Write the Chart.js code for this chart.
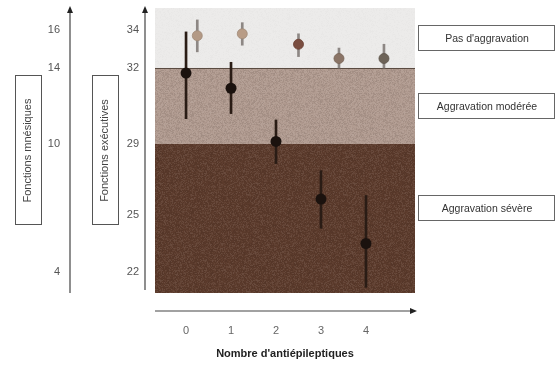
<!DOCTYPE html>
<html>
<head>
<meta charset="utf-8">
<script src="https://cdn.jsdelivr.net/npm/chart.js@4"></script>
<style>
  html, body { margin: 0; padding: 0; background: #fff; }
  canvas { display: block; }
</style>
</head>
<body>
<canvas id="chart" width="555" height="368"></canvas>
<script>
// data
const xTicks = [0, 1, 2, 3, 4];
const execTicks = [22, 25, 29, 32, 34];
const memTicks = [4, 10, 14, 16];

// executive functions (dark points)
const darkX = [0, 1, 2, 3, 4];
const darkY = [31.8, 31.2, 29.1, 25.9, 23.5];
const darkLo = [30.0, 30.2, 27.9, 24.3, 21.2];
const darkHi = [33.9, 32.3, 29.95, 27.5, 26.1];

// "pas d'aggravation" (light points)
const lightX = [0.25, 1.25, 2.5, 3.4, 4.4];
const lightY = [33.7, 33.8, 33.25, 32.5, 32.5];
const lightLo = [32.85, 33.2, 32.6, 32.0, 32.0];
const lightHi = [34.55, 34.4, 33.8, 33.05, 33.25];

// bands
const bandEdges = [32, 29, 22];
const bandLabels = ["Pas d'aggravation", "Aggravation modérée", "Aggravation sévère"];

const FONT = "'Liberation Sans', Arial, sans-serif";

// 🔹 piecewise vertical scale (the original axes are not linear)
class PiecewiseScale extends Chart.LinearScale {
  static id = 'piecewise';
  static defaults = Chart.LinearScale.defaults;
  _frac(v) {
    const k = this.options.knots;
    if (v <= k[0][0]) return k[0][1];
    for (let i = 1; i < k.length; i++) {
      if (v <= k[i][0]) {
        const t = (v - k[i-1][0]) / (k[i][0] - k[i-1][0]);
        return k[i-1][1] + t * (k[i][1] - k[i-1][1]);
      }
    }
    return k[k.length - 1][1];
  }
  getPixelForValue(v) {
    return this.bottom - this._frac(v) * (this.bottom - this.top);
  }
  getValueForPixel(p) {
    const f = (this.bottom - p) / (this.bottom - this.top);
    const k = this.options.knots;
    for (let i = 1; i < k.length; i++) {
      if (f <= k[i][1]) {
        const t = (f - k[i-1][1]) / (k[i][1] - k[i-1][1]);
        return k[i-1][0] + t * (k[i][0] - k[i-1][0]);
      }
    }
    return k[k.length - 1][0];
  }
}
Chart.register(PiecewiseScale);

// 🔹 texture for the bands
function noisePattern(ctx) {
  const c = document.createElement('canvas');
  c.width = c.height = 97;
  const g = c.getContext('2d');
  const img = g.createImageData(97, 97);
  let s = 987654;
  for (let i = 0; i < img.data.length; i += 4) {
    s = (Math.imul(s, 1103515245) + 12345) >>> 0;
    const v = s >>> 24;
    const w = v > 128 ? 255 : 0;
    img.data[i] = w; img.data[i+1] = w; img.data[i+2] = w;
    img.data[i+3] = Math.abs(v - 128) * 0.45;
  }
  g.putImageData(img, 0, 0);
  return ctx.createPattern(c, 'repeat');
}

const bandsPlugin = {
  id: 'bands',
  beforeDatasetsDraw(chart) {
    const {ctx, chartArea: a, scales: {y}} = chart;
    const y32 = y.getPixelForValue(bandEdges[0]);
    const y29 = y.getPixelForValue(bandEdges[1]);
    ctx.save();
    ctx.fillStyle = '#ecebea';
    ctx.fillRect(a.left, a.top, a.right - a.left, y32 - a.top);
    ctx.fillStyle = '#b09a8f';
    ctx.fillRect(a.left, y32, a.right - a.left, y29 - y32);
    ctx.fillStyle = '#5c3b2c';
    ctx.fillRect(a.left, y29, a.right - a.left, a.bottom - y29);
    ctx.fillStyle = noisePattern(ctx);
    ctx.globalAlpha = 0.4;
    ctx.fillRect(a.left, y32, a.right - a.left, a.bottom - y32);
    ctx.globalAlpha = 0.08;
    ctx.fillRect(a.left, a.top, a.right - a.left, y32 - a.top);
    ctx.globalAlpha = 1;
    ctx.strokeStyle = '#5a4a40';
    ctx.lineWidth = 1;
    ctx.beginPath();
    ctx.moveTo(a.left, y32 + 0.5); ctx.lineTo(a.right, y32 + 0.5);
    ctx.stroke();
    ctx.restore();
  },
  afterDraw(chart) {
    const {ctx, chartArea: a, scales: {y, yMem}} = chart;
    ctx.save();
    ctx.strokeStyle = '#444';
    ctx.fillStyle = '#222';
    ctx.lineWidth = 1.2;

    const up = (px, top, bottom) => {
      ctx.beginPath(); ctx.moveTo(px, top + 4); ctx.lineTo(px, bottom); ctx.stroke();
      ctx.beginPath(); ctx.moveTo(px, top - 2); ctx.lineTo(px - 3, top + 5); ctx.lineTo(px + 3, top + 5); ctx.closePath(); ctx.fill();
    };
    up(yMem.right - 2, a.top, a.bottom);
    up(y.right - 10, a.top, a.bottom - 3);

    const xl = a.bottom + 18;
    ctx.beginPath(); ctx.moveTo(a.left, xl); ctx.lineTo(a.right - 3, xl); ctx.stroke();
    ctx.beginPath(); ctx.moveTo(a.right + 2, xl); ctx.lineTo(a.right - 5, xl - 3); ctx.lineTo(a.right - 5, xl + 3); ctx.closePath(); ctx.fill();

    // left boxes around the axis titles
    ctx.strokeStyle = '#555';
    ctx.lineWidth = 1;
    const mid = (a.top + a.bottom) / 2;
    [yMem.left + 28, y.left + 33].forEach(cx => {
      ctx.strokeRect(Math.round(cx - 13) + 0.5, Math.round(mid - 76) + 0.5, 26, 149);
    });

    // right-hand labels
    const edges = [a.top, y.getPixelForValue(bandEdges[0]), y.getPixelForValue(bandEdges[1]), y.getPixelForValue(bandEdges[2])];
    ctx.font = '10.5px ' + FONT;
    ctx.textAlign = 'center';
    ctx.textBaseline = 'middle';
    bandLabels.forEach((lab, i) => {
      const cy = (edges[i] + edges[i + 1]) / 2;
      ctx.strokeStyle = '#666';
      ctx.strokeRect(a.right + 3.5, Math.round(cy - 12.5) + 0.5, 136, 25);
      ctx.fillStyle = '#333';
      ctx.fillText(lab, a.right + 72, cy + 1);
    });
    ctx.restore();
  }
};

const axisFont = {family: FONT, size: 11};
const noPad = s => { s.paddingTop = 0; s.paddingBottom = 0; s.paddingLeft = 0; s.paddingRight = 0; };

new Chart(document.getElementById('chart'), {
  type: 'scatter',
  data: {
    datasets: [
      {
        data: darkX.map((x, i) => ({x, y: darkY[i]})),
        pointRadius: 5.5,
        pointBackgroundColor: '#1b120e',
        pointBorderColor: '#1b120e',
        pointBorderWidth: 0
      },
      {
        data: lightX.map((x, i) => ({x, y: lightY[i]})),
        pointRadius: 5,
        pointBackgroundColor: ['#b39985', '#b89c86', '#7a4d40', '#8a7466', '#6d6358'],
        pointBorderColor: ['#a08a78', '#a08a78', '#6a4034', '#766356', '#5d544a'],
        pointBorderWidth: 0.8
      },
      {
        type: 'bar',
        data: darkX.map((x, i) => ({x, y: [darkLo[i], darkHi[i]]})),
        backgroundColor: '#2a1c15',
        barThickness: 2,
        grouped: false
      },
      {
        type: 'bar',
        data: lightX.map((x, i) => ({x, y: [lightLo[i], lightHi[i]]})),
        backgroundColor: '#8d8784',
        barThickness: 2,
        grouped: false
      }
    ]
  },
  options: {
    responsive: false,
    animation: false,
    layout: {padding: {top: 8, right: 140, bottom: 0, left: 0}},
    plugins: {legend: {display: false}, tooltip: {enabled: false}},
    scales: {
      x: {
        type: 'linear',
        min: -0.69,
        max: 5.09,
        offset: false,
        grid: {display: false, drawTicks: false},
        border: {display: false},
        afterBuildTicks: s => { s.ticks = xTicks.map(v => ({value: v})); },
        ticks: {padding: 31, color: '#666', font: axisFont},
        title: {
          display: true,
          text: "Nombre d'antiépileptiques",
          color: '#222',
          font: {family: FONT, size: 11, weight: 'bold'},
          padding: {top: 4, bottom: 7}
        },
        afterFit: s => { noPad(s); s.height = 75; }
      },
      y: {
        type: 'piecewise',
        position: 'left',
        weight: 0,
        min: 20.9,
        max: 35.2,
        knots: [[20.9, 0], [22, 0.0737], [25, 0.2737], [29, 0.5228], [32, 0.7895], [34, 0.9228], [35.2, 1]],
        grid: {display: false, drawTicks: false},
        border: {display: false},
        afterBuildTicks: s => { s.ticks = execTicks.map(v => ({value: v})); },
        ticks: {padding: 16, color: '#555', font: axisFont},
        title: {
          display: true,
          text: 'Fonctions exécutives',
          color: '#444',
          font: {family: FONT, size: 11},
          padding: {top: 26.4, bottom: 0}
        },
        afterFit: s => { noPad(s); s.width = 83; }
      },
      yMem: {
        type: 'piecewise',
        position: 'left',
        weight: 1,
        min: 3,
        max: 17,
        knots: [[3, 0], [4, 0.0737], [10, 0.5228], [14, 0.7895], [16, 0.9228], [17, 1]],
        grid: {display: false, drawTicks: false},
        border: {display: false},
        afterBuildTicks: s => { s.ticks = memTicks.map(v => ({value: v})); },
        ticks: {padding: 12, color: '#555', font: axisFont},
        title: {
          display: true,
          text: 'Fonctions mnésiques',
          color: '#444',
          font: {family: FONT, size: 11},
          padding: {top: 21.4, bottom: 0}
        },
        afterFit: s => { noPad(s); s.width = 72; }
      }
    }
  },
  plugins: [bandsPlugin]
});
</script>
</body>
</html>
